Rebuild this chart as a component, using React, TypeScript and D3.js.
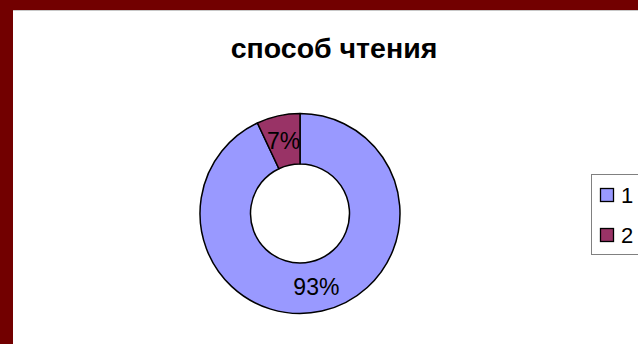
import React from "react";
import * as d3 from "d3";

const categories = ["1", "2"];
const values = [93, 7];
const labels = ["93%", "7%"];
const colors = ["#9999FF", "#993366"];
const title = "способ чтения";

const W = 638;
const H = 344;

export default function App() {
  const cx = 300;
  const cy = 213.5;
  const outerR = 100;
  const innerR = 49.5;
  const pie = d3.pie<number>().sort(null).value((d) => d);
  const arcs = pie(values);
  const arcGen = d3.arc<d3.PieArcDatum<number>>().innerRadius(innerR).outerRadius(outerR);
  const labelArc = d3.arc<d3.PieArcDatum<number>>().innerRadius(75).outerRadius(75);
  const font = "'Liberation Sans', Arial, sans-serif";

  const legendX = 591;
  const legendY = 174;
  const legendH = 80;
  const itemY = d3.scalePoint<string>().domain(categories).range([legendY + 21, legendY + legendH - 19]);

  return (
    <svg width={W} height={H} style={{ position: "fixed", left: 0, top: 0 }} xmlns="http://www.w3.org/2000/svg">
      <rect x={0} y={0} width={W} height={H} fill="#720000" />
      <rect x={13} y={10} width={W - 13} height={H - 10} fill="#ffffff" />
      <line x1={13} x2={W} y1={10.5} y2={10.5} stroke="#c8c8c8" strokeWidth={1} />
      <text x={334} y={58} textAnchor="middle" fontFamily={font} fontWeight="bold" fontSize={28.5} fill="#000">
        {title}
      </text>
      <g transform={`translate(${cx},${cy})`}>
        {arcs.map((a, i) => (
          <path key={i} d={arcGen(a) || ""} fill={colors[i]} stroke="#000" strokeWidth={1.5} strokeLinejoin="round" />
        ))}
        {arcs.map((a, i) => {
          const [lx, ly] = labelArc.centroid(a);
          return (
            <text key={"l" + i} x={lx} y={ly} dy="0.36em" textAnchor="middle" fontFamily={font} fontSize={23} fill="#000">
              {labels[i]}
            </text>
          );
        })}
      </g>
      <rect x={legendX + 0.5} y={legendY + 0.5} width={W - legendX + 5} height={legendH} fill="#fff" stroke="#808080" strokeWidth={1} />
      {categories.map((c, i) => {
        const y = itemY(c) as number;
        return (
          <g key={c}>
            <rect x={600.5} y={y - 6.5} width={13} height={13} fill={colors[i]} stroke="#000" strokeWidth={1.3} />
            <text x={621} y={y} dy="0.36em" fontFamily={font} fontSize={22} fill="#000">
              {c}
            </text>
          </g>
        );
      })}
    </svg>
  );
}
